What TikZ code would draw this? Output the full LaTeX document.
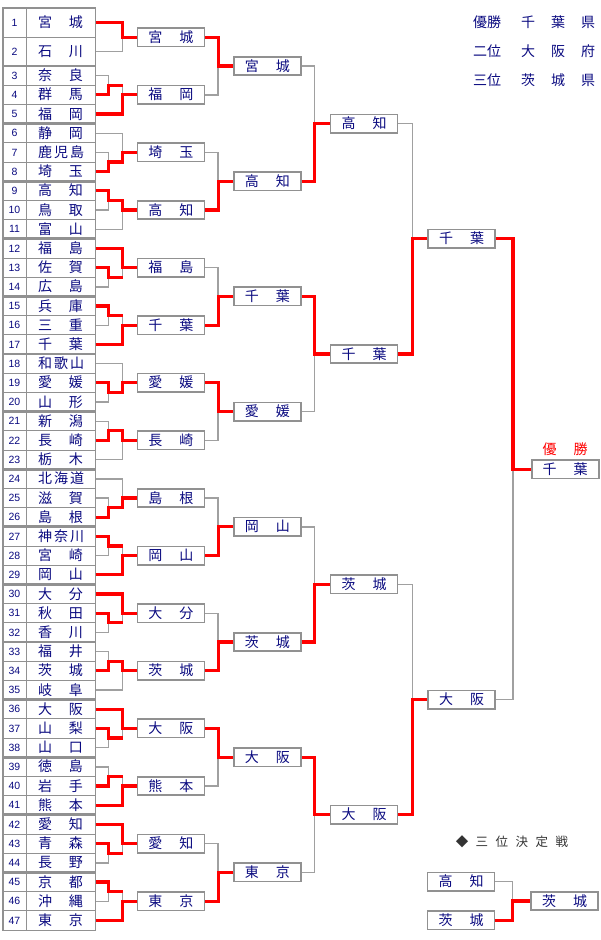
\documentclass[tikz,border=0pt]{standalone}
\usepackage{fontspec}
\setmainfont{Liberation Sans}
\newfontfamily\cjk{Noto Sans CJK JP}
\usetikzlibrary{calc, positioning, backgrounds}

\definecolor{txtblue}{RGB}{10,10,128}
\definecolor{linegray}{RGB}{160,160,160}
\definecolor{boxgray}{RGB}{145,145,145}
\newcommand{\spr}[1]{\makebox[45pt][s]{#1}}

\begin{document}
\begin{tikzpicture}[x=1pt, y=-1pt,
    numcell/.style={draw=boxgray, line width=1pt, fill=white, minimum width=23pt, inner sep=0pt,
      text=txtblue, text height=7.5pt, text depth=0pt, font=\fontsize{10.5}{12}\selectfont},
    namecell/.style={draw=boxgray, line width=1pt, fill=white, minimum width=69pt, inner sep=0pt,
      text=txtblue, text height=11.5pt, text depth=1.5pt, font=\cjk\fontsize{14}{16}\selectfont},
    grp/.style={draw=boxgray, line width=1.8pt},
    team/.style={draw=boxgray, line width=1.6pt, fill=white, minimum width=67pt, minimum height=18.5pt,
      inner sep=0pt, text=txtblue, text height=11.5pt, text depth=1.5pt, font=\cjk\fontsize{14}{16}\selectfont},
    lose/.style={draw=linegray, line width=1.4pt},
    win/.style={draw=red, line width=3.2pt},
    legend/.style={inner sep=0pt, text=txtblue, text height=11.5pt, text depth=1.5pt, font=\cjk\fontsize{14}{16}\selectfont}]
\useasboundingbox (0,0) rectangle (600,940);

% table of the 47 entries
\node[numcell, minimum height=28.8pt] (n1) at (14.5,22.8) {1};
\node[namecell, minimum height=28.8pt] (p1) at (60.5,22.8) {\spr{宮 城}};
\node[numcell, minimum height=28.8pt] (n2) at (14.5,51.6) {2};
\node[namecell, minimum height=28.8pt] (p2) at (60.5,51.6) {\spr{石 川}};
\foreach \k/\nm in {3/奈 良, 4/群 馬, 5/福 岡, 6/静 岡, 7/鹿 児 島, 8/埼 玉, 9/高 知, 10/鳥 取,
    11/富 山, 12/福 島, 13/佐 賀, 14/広 島, 15/兵 庫, 16/三 重, 17/千 葉, 18/和 歌 山, 19/愛 媛,
    20/山 形, 21/新 潟, 22/長 崎, 23/栃 木, 24/北 海 道, 25/滋 賀, 26/島 根, 27/神 奈 川, 28/宮 崎,
    29/岡 山, 30/大 分, 31/秋 田, 32/香 川, 33/福 井, 34/茨 城, 35/岐 阜, 36/大 阪, 37/山 梨,
    38/山 口, 39/徳 島, 40/岩 手, 41/熊 本, 42/愛 知, 43/青 森, 44/長 野, 45/京 都, 46/沖 縄, 47/東 京}
  {
  \node[numcell, minimum height=19.2pt] (n\k) at (14.5,{75.6+(\k-3)*19.2}) {\k};
  \node[namecell, minimum height=19.2pt] (p\k) at (60.5,{75.6+(\k-3)*19.2}) {\spr{\nm}};
  }
\foreach \a/\b in {1/2, 3/5, 6/8, 9/11, 12/14, 15/17, 18/20, 21/23, 24/26, 27/29, 30/32, 33/35, 36/38, 39/41, 42/44, 45/47}
  \draw[grp] (n\a.north west) rectangle (p\b.south east);

% first round
\foreach \a/\b/\wn in {3/4/4, 7/8/8, 9/10/9, 13/14/13, 15/16/15, 19/20/19, 21/22/22, 25/26/26,
    27/28/27, 31/32/31, 33/34/34, 37/38/37, 39/40/40, 43/44/43, 45/46/45}
  {
  \coordinate (q\a) at ($(p\a.east)!0.5!(p\b.east)+(13,0)$);
  \scoped[on background layer] \draw[lose] (p\a.east) -| (q\a);
  \scoped[on background layer] \draw[lose] (p\b.east) -| (q\a);
  \draw[win] (p\wn.east) -| (q\a) -- ++(14,0);
  }

% second round
\coordinate (m1) at ($(p1.east)!0.5!(p2.east)$);
\foreach \g/\m/\nm in {1/m1/宮 城, 2/p4/福 岡, 3/p7/埼 玉, 4/p10/高 知, 5/p13/福 島, 6/p16/千 葉,
    7/p19/愛 媛, 8/p22/長 崎, 9/p25/島 根, 10/p28/岡 山, 11/p31/大 分, 12/p34/茨 城, 13/p37/大 阪,
    14/p40/熊 本, 15/p43/愛 知, 16/p46/東 京}
  \node[team, right=41pt of \m] (a\g) {\spr{\nm}};
\foreach \g/\up/\dn/\wn in {1/p1.east/p2.east/p1.east, 2/q3/p5.east/p5.east, 3/p6.east/q7/q7,
    4/q9/p11.east/q9, 5/p12.east/q13/p12.east, 6/q15/p17.east/p17.east, 7/p18.east/q19/q19,
    8/q21/p23.east/q21, 9/p24.east/q25/q25, 10/q27/p29.east/p29.east, 11/p30.east/q31/p30.east,
    12/q33/p35.east/q33, 13/p36.east/q37/p36.east, 14/q39/p41.east/p41.east,
    15/p42.east/q43/p42.east, 16/q45/p47.east/p47.east}
  {
  \coordinate (s\g) at ($(a\g.west)+(-14,0)$);
  \scoped[on background layer] \draw[lose] (\up) -| (s\g);
  \scoped[on background layer] \draw[lose] (\dn) -| (s\g);
  \draw[win] (\wn) -| (s\g) -- (a\g.west);
  }

% third place match
\node[team] (t1) at (461,881.7) {\spr{高 知}};
\node[team, below=18.5pt of t1] (t2) {\spr{茨 城}};

% later rounds
\foreach \tgt/\up/\dn/\wn/\gap/\jn/\nm in {b1/a1/a2/a1/28pt/15/宮 城, b2/a3/a4/a4/28pt/15/高 知,
    b3/a5/a6/a6/28pt/15/千 葉, b4/a7/a8/a7/28pt/15/愛 媛, b5/a9/a10/a10/28pt/15/岡 山,
    b6/a11/a12/a12/28pt/15/茨 城, b7/a13/a14/a13/28pt/15/大 阪, b8/a15/a16/a16/28pt/15/東 京,
    c1/b1/b2/b2/28pt/15/高 知, c2/b3/b4/b3/28pt/15/千 葉, c3/b5/b6/b6/28pt/15/茨 城,
    c4/b7/b8/b7/28pt/15/大 阪, d1/c1/c2/c2/29pt/15/千 葉, d2/c3/c4/c4/29pt/15/大 阪,
    e/d1/d2/d1/35pt/18/千 葉, t3/t1/t2/t2/35pt/18/茨 城}
  {
  \coordinate (m\tgt) at ($(\up.east)!0.5!(\dn.east)$);
  \node[team, right=\gap of m\tgt] (\tgt) {\spr{\nm}};
  \coordinate (j\tgt) at ($(\tgt.west)+(-\jn,0)$);
  \scoped[on background layer] \draw[lose] (\up.east) -| (j\tgt);
  \scoped[on background layer] \draw[lose] (\dn.east) -| (j\tgt);
  \draw[win] (\wn.east) -| (j\tgt) -- (\tgt.west);
  }

\node[legend, text=red, above=2.5pt of e] (champ) {\spr{優 勝}};
\node[inner sep=0pt, text=black!80, font=\cjk\fontsize{12.5}{14}\selectfont] (third) at (512,842)
  {\makebox[20pt]{◆}\makebox[20pt]{三}\makebox[20pt]{位}\makebox[20pt]{決}\makebox[20pt]{定}\makebox[20pt]{戦}};

% result list
\node[legend, anchor=west] (l1) at (473,22) {\makebox[40pt][l]{優勝}\makebox[30pt]{千}\makebox[30pt]{葉}\makebox[30pt]{県}};
\node[legend, anchor=west] (l2) at (473,51) {\makebox[40pt][l]{二位}\makebox[30pt]{大}\makebox[30pt]{阪}\makebox[30pt]{府}};
\node[legend, anchor=west] (l3) at (473,80) {\makebox[40pt][l]{三位}\makebox[30pt]{茨}\makebox[30pt]{城}\makebox[30pt]{県}};
\end{tikzpicture}
\end{document}
